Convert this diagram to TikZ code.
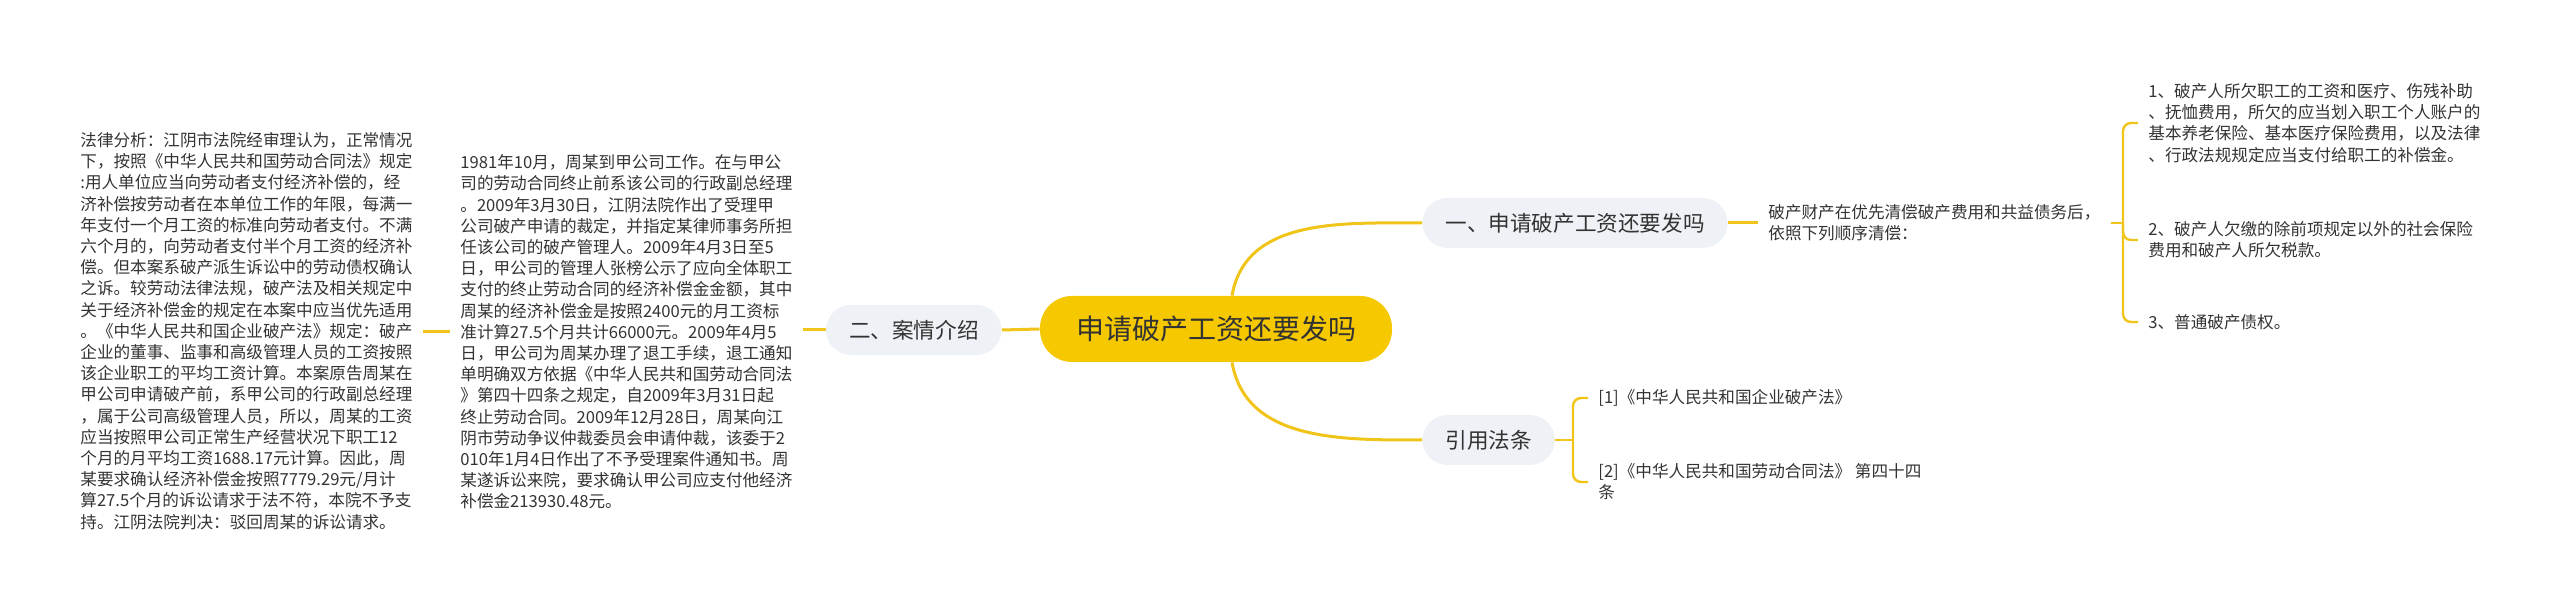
\documentclass[tikz,border=0pt]{standalone}
\usepackage{fontspec}
\setmainfont{Noto Sans CJK SC}
\usepackage{xcolor}
\usepackage{tikz}
\tikzstyle{rootblock} = [rectangle, fill=mroot, rounded corners=16pt, minimum height=33pt, inner xsep=18pt, text=mtext, font=\fontsize{14pt}{16pt}\selectfont]
\tikzstyle{topic} = [rectangle, fill=mgrey, rounded corners=12.5pt, minimum height=25pt, inner xsep=11.5pt, text=mtext, font=\fontsize{10.8pt}{13pt}\selectfont]
\tikzstyle{leaf} = [align=left, anchor=west, inner xsep=5pt, inner ysep=0pt, text=mtext, font=\fontsize{8.3pt}{10.6pt}\selectfont]
\tikzstyle{link} = [draw=mline, line width=1.5pt]
\tikzstyle{brace} = [draw=mline, line width=1.2pt, rounded corners=4pt]
\definecolor{mroot}{HTML}{F5C800}
\definecolor{mline}{HTML}{F0C419}
\definecolor{mgrey}{HTML}{EEF1F5}
\definecolor{mtext}{HTML}{333333}

\begin{document}
\begin{tikzpicture}[x=0.5pt, y=-0.5pt]
    \useasboundingbox (0, 0) rectangle (2560, 613);

    % root and topics
    \node[rootblock] at (1216, 329) (root) {申请破产工资还要发吗};
    \node[topic, anchor=west] at (1422, 223) (law) {一、申请破产工资还要发吗};
    \node[topic, anchor=east] at (1002, 330) (case) {二、案情介绍};
    \node[topic, anchor=west] at (1422, 440) (cite) {引用法条};

    % case texts
    \node[leaf] at (450, 332) (facts) {1981年10月，周某到甲公司工作。在与甲公\\司的劳动合同终止前系该公司的行政副总经理\\。2009年3月30日，江阴法院作出了受理甲\\公司破产申请的裁定，并指定某律师事务所担\\任该公司的破产管理人。2009年4月3日至5\\日，甲公司的管理人张榜公示了应向全体职工\\支付的终止劳动合同的经济补偿金金额，其中\\周某的经济补偿金是按照2400元的月工资标\\准计算27.5个月共计66000元。2009年4月5\\日，甲公司为周某办理了退工手续，退工通知\\单明确双方依据《中华人民共和国劳动合同法\\》第四十四条之规定，自2009年3月31日起\\终止劳动合同。2009年12月28日，周某向江\\阴市劳动争议仲裁委员会申请仲裁，该委于2\\010年1月4日作出了不予受理案件通知书。周\\某遂诉讼来院，要求确认甲公司应支付他经济\\补偿金213930.48元。};
    \node[leaf] at (70, 331) (analysis) {法律分析：江阴市法院经审理认为，正常情况\\下，按照《中华人民共和国劳动合同法》规定\\:用人单位应当向劳动者支付经济补偿的，经\\济补偿按劳动者在本单位工作的年限，每满一\\年支付一个月工资的标准向劳动者支付。不满\\六个月的，向劳动者支付半个月工资的经济补\\偿。但本案系破产派生诉讼中的劳动债权确认\\之诉。较劳动法律法规，破产法及相关规定中\\关于经济补偿金的规定在本案中应当优先适用\\。《中华人民共和国企业破产法》规定：破产\\企业的董事、监事和高级管理人员的工资按照\\该企业职工的平均工资计算。本案原告周某在\\甲公司申请破产前，系甲公司的行政副总经理\\，属于公司高级管理人员，所以，周某的工资\\应当按照甲公司正常生产经营状况下职工12\\个月的月平均工资1688.17元计算。因此，周\\某要求确认经济补偿金按照7779.29元/月计\\算27.5个月的诉讼请求于法不符，本院不予支\\持。江阴法院判决：驳回周某的诉讼请求。};

    % order of payment
    \node[leaf] at (1758, 223) (order) {破产财产在优先清偿破产费用和共益债务后，\\依照下列顺序清偿：};
    \node[leaf] at (2138, 123) (pay1) {1、破产人所欠职工的工资和医疗、伤残补助\\、抚恤费用，所欠的应当划入职工个人账户的\\基本养老保险、基本医疗保险费用，以及法律\\、行政法规规定应当支付给职工的补偿金。};
    \node[leaf] at (2138, 240) (pay2) {2、破产人欠缴的除前项规定以外的社会保险\\费用和破产人所欠税款。};
    \node[leaf] at (2138, 322) (pay3) {3、普通破产债权。};
    \coordinate (orderjoin) at (2123, 223);

    % cited laws
    \node[leaf] at (1588, 398) (ref1) {[1]《中华人民共和国企业破产法》};
    \node[leaf] at (1588, 482) (ref2) {[2]《中华人民共和国劳动合同法》 第四十四\\条};
    \coordinate (citejoin) at (1573, 440);

    % links
    \path[link] (root.west) -- (case.east);
    \path[link] (case.west) -- (case.west -| facts.east);
    \path[link] (facts.west) -- (facts.west -| analysis.east);
    \path[link] ([xshift=8pt]root.north) to [out=80, in=180] (law.west);
    \path[link] ([xshift=8pt]root.south) to [out=-80, in=180] (cite.west);
    \path[link] (law.east) -- (law.east -| order.west);

    \path[brace] (order.east) -- (orderjoin);
    \path[brace] (orderjoin) |- (pay1.west);
    \path[brace] (orderjoin) |- (pay2.west);
    \path[brace] (orderjoin) |- (pay3.west);

    \path[brace] (cite.east) -- (citejoin);
    \path[brace] (citejoin) |- (ref1.west);
    \path[brace] (citejoin) |- (ref2.west);
\end{tikzpicture}
\end{document}
